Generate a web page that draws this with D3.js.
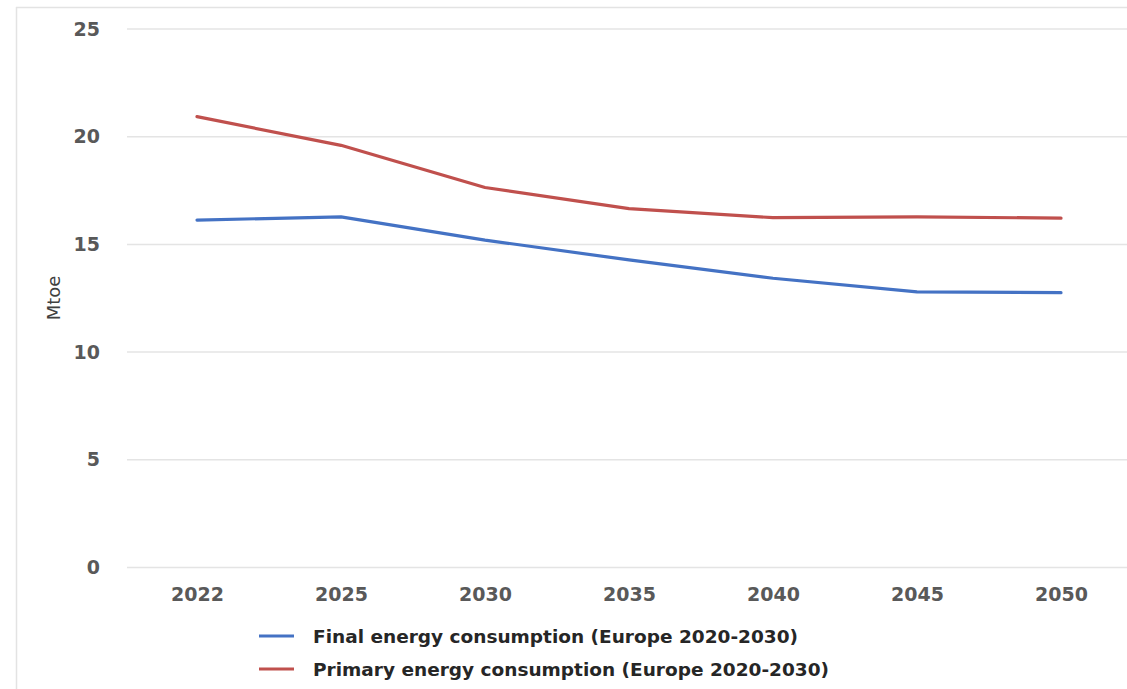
<!DOCTYPE html>
<html><head><meta charset="utf-8">
<script src="https://cdn.jsdelivr.net/npm/d3@7"></script>
<style>body{margin:0;background:#fff}svg{display:block}</style>
</head><body>
<script>
const years = ["2022","2025","2030","2035","2040","2045","2050"];
const finalEnergy = [16.13, 16.28, 15.2, 14.28, 13.43, 12.8, 12.76];
const primaryEnergy = [20.93, 19.6, 17.64, 16.66, 16.24, 16.28, 16.22];
const yTicks = [0, 5, 10, 15, 20, 25];
const seriesNames = ["Final energy consumption (Europe 2020-2030)", "Primary energy consumption (Europe 2020-2030)"];
const seriesColors = ["#4472C4", "#C0504D"];

const W = 1127, H = 689;
const svg = d3.select("body").append("svg").attr("width", W).attr("height", H);

// frame
svg.append("line").attr("x1",16).attr("x2",W+5).attr("y1",7.5).attr("y2",7.5).attr("stroke","#e3e3e3").attr("stroke-width",1.5);
svg.append("line").attr("x1",16.5).attr("x2",16.5).attr("y1",7).attr("y2",H+5).attr("stroke","#e3e3e3").attr("stroke-width",1.5);

const x = d3.scalePoint().domain(years).range([197, 1061]);
const y = d3.scaleLinear().domain([0, 25]).range([567.5, 29]);

// gridlines
svg.append("g").selectAll("line").data(yTicks).join("line")
  .attr("x1",127).attr("x2",W+5)
  .attr("y1",d=>y(d)).attr("y2",d=>y(d))
  .attr("stroke","#e4e4e4").attr("stroke-width",1.5);

const tickFont = "'DejaVu Sans', sans-serif";

// y axis labels
const yAxis = svg.append("g").attr("transform","translate(100,0)")
  .call(d3.axisLeft(y).tickValues(yTicks).tickSize(0).tickPadding(0));
yAxis.select(".domain").remove();
yAxis.selectAll("text").attr("font-family",tickFont).attr("font-weight","bold")
  .attr("font-size","19px").attr("fill","#595959");

// x axis labels
const xAxis = svg.append("g").attr("transform",`translate(0,${y(0)})`)
  .call(d3.axisBottom(x).tickSize(0).tickPadding(20));
xAxis.select(".domain").remove();
xAxis.selectAll("text").attr("font-family",tickFont).attr("font-weight","bold")
  .attr("font-size","19px").attr("fill","#595959");

// y title
svg.append("text").attr("transform","translate(60,298) rotate(-90)")
  .attr("text-anchor","middle").attr("font-family","'DejaVu Sans', sans-serif")
  .attr("font-size","18px").attr("fill","#404040").text("Mtoe");

// lines
const line = d3.line().x((d,i)=>x(years[i])).y(d=>y(d));
[finalEnergy, primaryEnergy].forEach((s,i)=>{
  svg.append("path").datum(s).attr("d",line).attr("fill","none")
    .attr("stroke",seriesColors[i]).attr("stroke-width",3.2)
    .attr("stroke-linejoin","round").attr("stroke-linecap","round");
});

// legend
const legY = [636, 669];
seriesNames.forEach((n,i)=>{
  svg.append("line").attr("x1",259).attr("x2",294).attr("y1",legY[i]).attr("y2",legY[i])
    .attr("stroke",seriesColors[i]).attr("stroke-width",3.2);
  svg.append("text").attr("x",313).attr("y",legY[i]).attr("dy","0.36em")
    .attr("font-family","'DejaVu Sans', sans-serif").attr("font-weight","bold")
    .attr("font-size","18.5px").attr("fill","#262626").text(n);
});
</script>
</body></html>
